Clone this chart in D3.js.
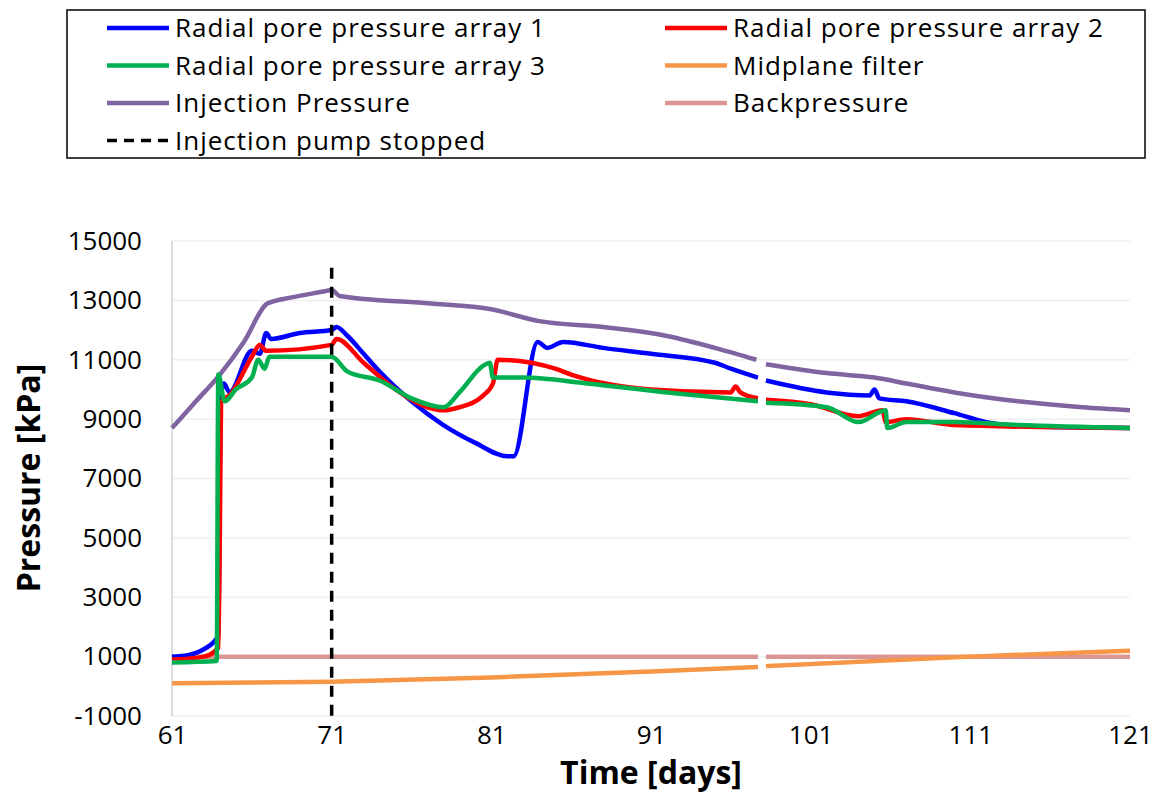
<!DOCTYPE html>
<html><head><meta charset="utf-8">
<script src="https://cdn.jsdelivr.net/npm/d3@7"></script>
<style>body{margin:0;background:#fff}text{font-family:"Open Sans",sans-serif}</style>
</head><body><div id="chart"></div>
<script>
// data: [day, kPa], null = gap in logging
var array1 = [[61,1000],[62,1050],[63,1250],[63.9,1700],[64.05,9700],[64.25,10200],[64.6,9900],[66,11300],[66.5,11200],[66.9,11900],[67.2,11700],[69,11900],[71,12000],[71.3,12100],[72,11800],[73,11200],[74,10600],[76,9600],[78,8800],[80,8200],[82,7750],[82.4,7750],[83.9,11600],[84.5,11400],[85.5,11600],[88,11400],[91,11200],[95,10900],[96,10700],[97.7,10400],null,[98.2,10300],[102,9900],[104.7,9800],[105,10000],[105.3,9700],[107,9600],[110,9200],[112,8900],[115,8750],[121,8700]];
var array2 = [[61,900],[63,1000],[63.9,1300],[64.1,9600],[64.6,9800],[66,11100],[66.5,11500],[66.9,11300],[71,11500],[71.3,11700],[73,10900],[75,10000],[77,9400],[78,9300],[79,9400],[80.5,9800],[81.1,10200],[81.4,11000],[85,10700],[86,10500],[91,10000],[96,9900],[96.3,10100],[96.6,9900],[97.7,9700],null,[98.2,9650],[101,9500],[104,9100],[105.5,9300],[105.7,8900],[107,9000],[110,8800],[121,8700]];
var array3 = [[61,800],[63.8,850],[63.9,10500],[64.3,9600],[65,10000],[66,10400],[66.4,11000],[66.8,10700],[67.1,11100],[71,11100],[72,10600],[74,10300],[76,9700],[78,9400],[79,9900],[80.5,10800],[80.9,10900],[81.1,10400],[83,10400],[87,10200],[92,9900],[97.7,9600],null,[98.2,9550],[102,9400],[104,8900],[105.7,9300],[105.8,8700],[107,8900],[110,8900],[114,8800],[121,8700]];
var midplane = [[61,100],[71,150],[81,300],[91,500],[97.7,650],null,[98.2,680],[111,1000],[121,1200]];
var injection = [[61,8700],[62.5,9600],[64,10500],[65.5,11600],[67,12900],[68.5,13100],[70.5,13300],[71,13350],[71.5,13150],[77,12900],[81,12700],[84,12300],[88,12100],[92,11800],[95,11400],[97.6,11000],null,[98.2,10850],[102,10550],[105,10400],[107,10200],[110,9900],[114,9600],[118,9400],[121,9300]];
var backpressure = [[61,1000],[97.7,1000],null,[98.2,1000],[121,1000]];
var pumpStop = 71;

var series = [
  {name:"Radial pore pressure array 1", color:"#0000ff", data:array1},
  {name:"Radial pore pressure array 2", color:"#ff0000", data:array2},
  {name:"Radial pore pressure array 3", color:"#00b050", data:array3},
  {name:"Midplane filter", color:"#f79646", data:midplane},
  {name:"Injection Pressure", color:"#8064a2", data:injection},
  {name:"Backpressure", color:"#d99694", data:backpressure}
];
var drawOrder = [4,5,3,0,1,2];
var xTicks = [61,71,81,91,101,111,121];
var yTicks = [-1000,1000,3000,5000,7000,9000,11000,13000,15000];

var svg = d3.select("#chart").append("svg").attr("width",1161).attr("height",793);
var x = d3.scaleLinear().domain([61,121]).range([172,1130]);
var y = d3.scaleLinear().domain([-1000,15000]).range([716,241]);

// grid
svg.append("g").selectAll("line").data(yTicks).enter().append("line")
  .attr("x1",172).attr("x2",1130).attr("y1",d=>y(d)).attr("y2",d=>y(d))
  .attr("stroke","#efefef").attr("stroke-width",1.5);
svg.append("line").attr("x1",172).attr("x2",172).attr("y1",241).attr("y2",716).attr("stroke","#d0d0d0").attr("stroke-width",1.5);

svg.append("g").attr("transform","translate(0,716)")
  .call(d3.axisBottom(x).tickValues(xTicks).tickSize(0).tickPadding(10))
  .call(g=>g.select(".domain").remove())
  .selectAll("text").attr("font-size",26).attr("fill","#000").attr("font-family","Open Sans");
svg.append("g").attr("transform","translate(172,0)")
  .call(d3.axisLeft(y).tickValues(yTicks).tickFormat(d=>String(d)).tickSize(0).tickPadding(30))
  .call(g=>g.select(".domain").remove())
  .selectAll("text").attr("font-size",26).attr("fill","#000").attr("font-family","Open Sans");

var line = d3.line().defined(d=>d!==null).x(d=>x(d[0])).y(d=>y(d[1])).curve(d3.curveMonotoneX);
drawOrder.forEach(function(i){
  svg.append("path").datum(series[i].data).attr("d",line)
    .attr("fill","none").attr("stroke",series[i].color).attr("stroke-width",4.5)
    .attr("stroke-linejoin","round");
});
svg.append("line").attr("x1",x(pumpStop)).attr("x2",x(pumpStop)).attr("y1",y(14100)).attr("y2",y(-1000))
  .attr("stroke","#000").attr("stroke-width",3.5).attr("stroke-dasharray","11,8");

svg.append("text").attr("x",651).attr("y",784).attr("text-anchor","middle")
  .attr("font-size",32).attr("font-weight","bold").text("Time [days]");
svg.append("text").attr("transform","translate(40,478) rotate(-90)").attr("text-anchor","middle")
  .attr("font-size",32).attr("font-weight","bold").text("Pressure [kPa]");

// legend
var leg = svg.append("g");
leg.append("rect").attr("x",67).attr("y",10).attr("width",1078).attr("height",148)
  .attr("fill","#fff").attr("stroke","#000").attr("stroke-width",1.5);
var items = series.map(s=>({name:s.name,color:s.color,dash:null}));
items.push({name:"Injection pump stopped",color:"#000",dash:"10,7"});
items.forEach(function(it,i){
  var cx = i%2===0 ? 107 : 665, cy = 28 + Math.floor(i/2)*37.5;
  leg.append("line").attr("x1",cx).attr("x2",cx+62).attr("y1",cy).attr("y2",cy)
    .attr("stroke",it.color).attr("stroke-width",it.dash?3.5:4.5).attr("stroke-dasharray",it.dash);
  leg.append("text").attr("x",cx+68).attr("y",cy+9).attr("font-size",26).attr("letter-spacing",1).text(it.name);
});
</script></body></html>
